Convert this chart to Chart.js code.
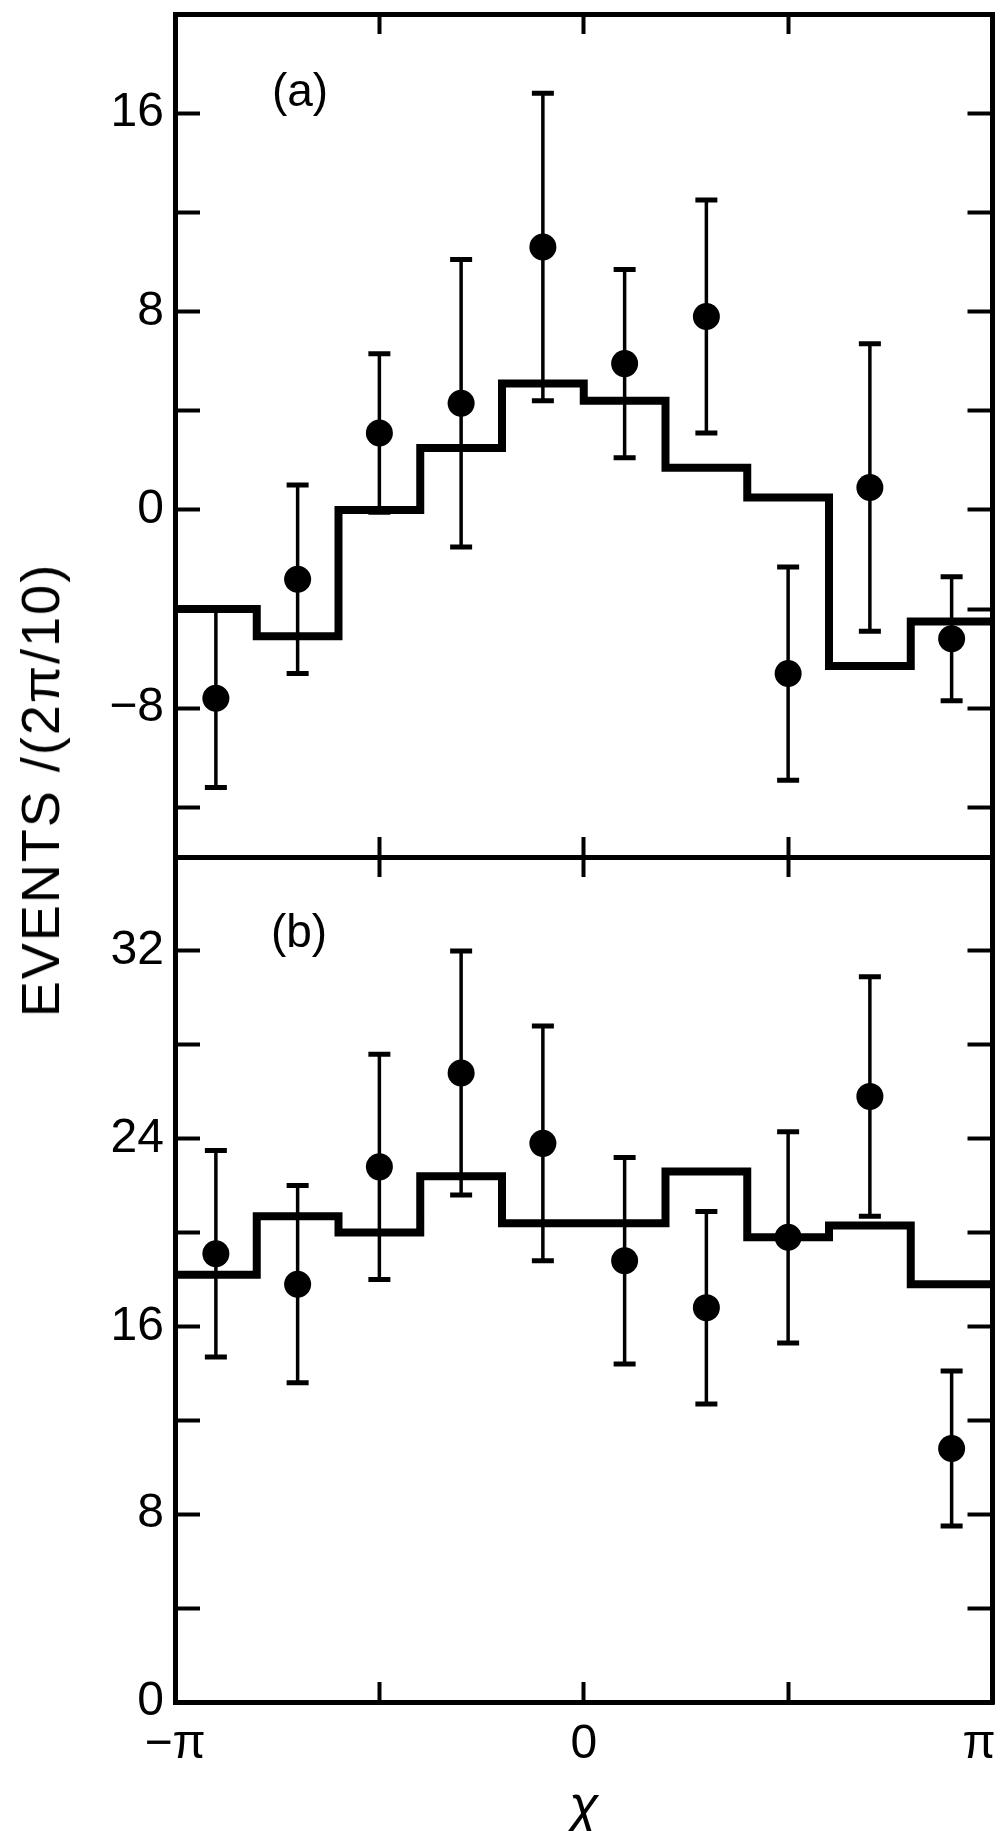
<!DOCTYPE html>
<html>
<head>
<meta charset="utf-8">
<script src="https://cdn.jsdelivr.net/npm/chart.js@4.4.0/dist/chart.umd.min.js"></script>
<style>
  html, body { margin: 0; padding: 0; background: #fff; }
  #wrap { position: relative; width: 1006px; height: 1831px; overflow: hidden; }
  canvas { position: absolute; left: 0; }
  #chartA { top: 0; }
  #chartB { top: 840px; }
  #ytitle {
    position: absolute; left: 40px; top: 790px;
    transform: translate(-50%, -50%) rotate(-90deg);
    font: 54px "Liberation Sans", Arial, sans-serif;
    letter-spacing: 2px; white-space: nowrap; color: #000;
  }
</style>
</head>
<body>
<div id="wrap">
  <canvas id="chartA" width="1006" height="880"></canvas>
  <canvas id="chartB" width="1006" height="991"></canvas>
  <div id="ytitle">EVENTS /(2π/10)</div>
</div>
<script>
// x is in units of pi
const binCenters = [-0.9, -0.7, -0.5, -0.3, -0.1, 0.1, 0.3, 0.5, 0.7, 0.9];
const binEdges = [-1, -0.8, -0.6, -0.4, -0.2, 0, 0.2, 0.4, 0.6, 0.8, 1];
const xTickLabels = { '-1': '−π', '0': '0', '1': 'π\u2007' };

// panel (a)
const eventsA = [-7.6, -2.8, 3.1, 4.3, 10.6, 5.9, 7.8, -6.6, 0.9, -5.2];
const errorsA = [3.6, 3.8, 3.2, 5.8, 6.2, 3.8, 4.7, 4.3, 5.8, 2.5];
const curveA = [-4.0, -5.1, 0.0, 2.5, 5.1, 4.4, 1.7, 0.5, -6.3, -4.5];
const labelsA = [-8, 0, 8, 16];

// panel (b)
const eventsB = [19.1, 17.8, 22.8, 26.8, 23.8, 18.8, 16.8, 19.8, 25.8, 10.8];
const errorsB = [4.4, 4.2, 4.8, 5.2, 5.0, 4.4, 4.1, 4.5, 5.1, 3.3];
const curveB = [18.2, 20.7, 20.0, 22.4, 20.4, 20.4, 22.6, 19.8, 20.3, 17.8];
const labelsB = [0, 8, 16, 24, 32];

const black = '#000';
const family = '"Liberation Sans", Arial, sans-serif';

const errorBars = {
  id: 'errorBars',
  afterDatasetsDraw(chart, args, opts) {
    const ctx = chart.ctx;
    const y = chart.scales.y;
    const meta = chart.getDatasetMeta(1);
    const data = chart.data.datasets[1].data;
    ctx.save();
    ctx.strokeStyle = black;
    opts.errors.forEach((e, i) => {
      const px = meta.data[i].x;
      const top = y.getPixelForValue(data[i].y + e);
      const bot = y.getPixelForValue(data[i].y - e);
      ctx.lineWidth = 3.5;
      ctx.beginPath();
      ctx.moveTo(px, top);
      ctx.lineTo(px, bot);
      ctx.stroke();
      ctx.lineWidth = 5;
      ctx.beginPath();
      ctx.moveTo(px - 11, top); ctx.lineTo(px + 11, top);
      ctx.moveTo(px - 11, bot); ctx.lineTo(px + 11, bot);
      ctx.stroke();
    });
    ctx.restore();
  }
};

const panelTag = {
  id: 'panelTag',
  afterDraw(chart, args, opts) {
    const { ctx, chartArea } = chart;
    ctx.save();
    ctx.font = '46px ' + family;
    ctx.fillStyle = black;
    ctx.textAlign = 'center';
    ctx.textBaseline = 'middle';
    ctx.fillText(opts.text, chartArea.left + opts.dx, chartArea.top + opts.dy);
    ctx.restore();
  }
};

function fmt(v) {
  return v < 0 ? '−' + Math.abs(v) : String(v);
}

function sizeAxis(w, h) {
  return function (s) {
    if (w !== null) s.width = w;
    if (h !== null) s.height = h;
    s.paddingLeft = 0; s.paddingRight = 0; s.paddingTop = 0; s.paddingBottom = 0;
  };
}

function tickGrid(len) {
  return { drawOnChartArea: false, drawTicks: true, tickLength: len, tickWidth: 4, tickColor: black };
}

const border = { display: true, color: black, width: 5 };

function makePanel(id, events, errors, curve, yMin, yMax, majors, tag, bottom) {
  const hist = binEdges.map((x, i) => ({ x: x, y: curve[Math.min(i, curve.length - 1)] }));
  const pts = binCenters.map((x, i) => ({ x: x, y: events[i] }));

  const xBottom = {
    type: 'linear', position: 'bottom', min: -1, max: 1,
    grid: tickGrid(-20), border: border,
    ticks: { display: false, stepSize: 0.5, autoSkip: false, maxRotation: 0 },
    afterFit: sizeAxis(null, 0)
  };
  if (bottom) {
    xBottom.ticks = {
      display: true, stepSize: 0.5, autoSkip: false, maxRotation: 0, padding: 34,
      color: black, font: { family: family, size: 48 },
      callback: v => xTickLabels[String(v)] || ''
    };
    xBottom.title = {
      display: true, text: 'χ', color: black,
      font: { family: family, size: 54, style: 'italic', lineHeight: 0.6 },
      padding: { top: 0, bottom: 6 }
    };
    xBottom.afterFit = sizeAxis(null, 129);
  }

  return new Chart(document.getElementById(id), {
    type: 'scatter',
    data: {
      datasets: [
        {
          data: hist, showLine: true, stepped: true, borderColor: black, borderWidth: 8,
          pointRadius: 0, fill: false, borderJoinStyle: 'miter', borderCapStyle: 'butt'
        },
        {
          data: pts, pointRadius: 13.5, pointStyle: 'circle',
          backgroundColor: black, borderWidth: 0
        }
      ]
    },
    options: {
      responsive: false,
      animation: false,
      devicePixelRatio: 1,
      layout: { padding: bottom ? { left: 0, right: 7, top: 17, bottom: 0 } : { left: 0, right: 7, top: 14, bottom: 23 } },
      plugins: {
        legend: { display: false },
        tooltip: { enabled: false },
        errorBars: { errors: errors },
        panelTag: tag
      },
      scales: {
        x: xBottom,
        xTop: {
          type: 'linear', position: 'top', min: -1, max: 1,
          grid: tickGrid(-20), border: border,
          ticks: { display: false, stepSize: 0.5, autoSkip: false },
          afterFit: sizeAxis(null, 0)
        },
        y: {
          type: 'linear', position: 'left', min: yMin, max: yMax,
          grid: tickGrid(-25), border: border,
          ticks: {
            stepSize: 4, autoSkip: false, includeBounds: false, padding: 36,
            color: black, font: { family: family, size: 48 },
            callback: v => majors.includes(v) ? fmt(v) : ''
          },
          afterFit: sizeAxis(175, null)
        },
        yRight: {
          type: 'linear', position: 'right', min: yMin, max: yMax,
          grid: tickGrid(-25), border: border,
          ticks: { display: false, stepSize: 4, autoSkip: false, includeBounds: false },
          afterFit: sizeAxis(0, null)
        }
      }
    },
    plugins: [errorBars, panelTag]
  });
}

makePanel('chartA', eventsA, errorsA, curveA, -14, 20, labelsA, { text: '(a)', dx: 125, dy: 79 }, false);
makePanel('chartB', eventsB, errorsB, curveB, 0, 36, labelsB, { text: '(b)', dx: 124, dy: 77 }, true);
</script>
</body>
</html>
